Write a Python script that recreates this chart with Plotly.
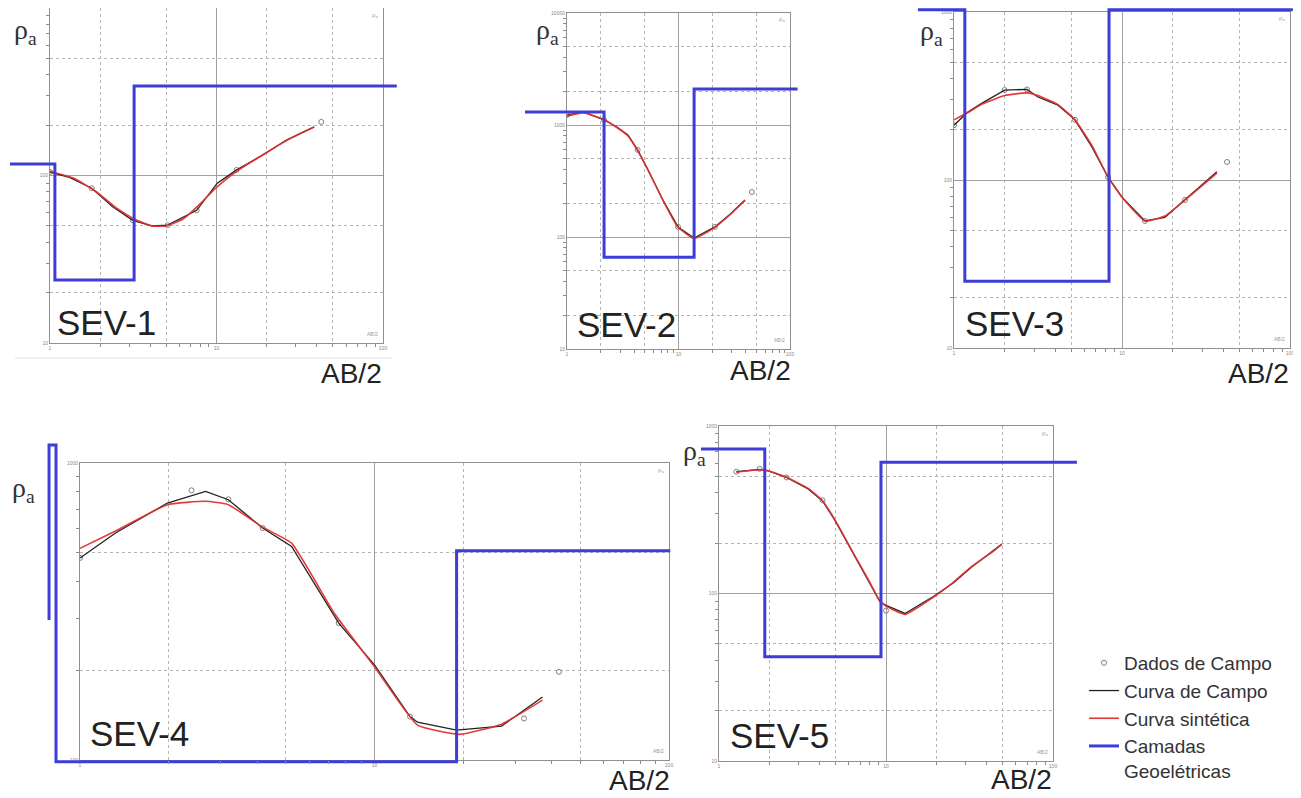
import math
import plotly.graph_objects as go

# page is shown with the browser's default 8px body margin
OFF = 8
W, H = 1301 - OFF, 798 - OFF

# ---------------- data (AB/2 in m, apparent resistivity in ohm.m) ----------------
# SEV-1
sev1_campo_x = [1.0, 1.32, 1.78, 2.38, 3.14, 4.08, 5.09, 6.3, 7.6, 10.1, 13.2, 18.9, 26.3, 38.6]
sev1_campo_r = [105, 97, 84, 65, 54, 50, 50.5, 56, 62, 90, 108, 132, 163, 195]
sev1_sint_x = [1.0, 1.4, 1.9, 2.5, 3.2, 4.1, 5.0, 6.3, 8.0, 10.0, 13.2, 19.0, 27.0, 38.6]
sev1_sint_r = [106, 96, 80, 64, 55, 50, 50, 55, 68, 85, 106, 133, 164, 195]
sev1_dados_x = [1.0, 1.78, 3.14, 5.09, 7.6, 13.2, 42.6]
sev1_dados_r = [105, 84, 54, 50.5, 62, 108, 209]
sev1_cam_x = [0.575, 1.07, 1.07, 3.2, 3.2, 121]
sev1_cam_r = [117, 117, 23.8, 23.8, 342, 342]

# SEV-2
sev2_campo_x = [1.0, 1.39, 2.15, 2.8, 3.52, 4.3, 5.32, 7.26, 9.9, 13.8, 21.2, 29.0, 39.5]
sev2_campo_r = [1227, 1306, 1109, 960, 815, 600, 396, 214, 123, 98, 123, 160, 214]
sev2_sint_x = [1.0, 1.4, 2.15, 2.8, 3.52, 4.3, 5.32, 7.26, 9.9, 13.8, 21.2, 29.0, 39.5]
sev2_sint_r = [1200, 1290, 1120, 950, 800, 590, 400, 212, 122, 97, 122, 158, 212]
sev2_dados_x = [1.0, 2.15, 4.3, 9.9, 21.2, 45.5]
sev2_dados_r = [1227, 1109, 600, 123, 123, 252]
sev2_cam_x = [0.42, 2.15, 2.15, 13.8, 13.8, 117]
sev2_cam_r = [1306, 1306, 66, 66, 2094, 2094]

# SEV-3
sev3_campo_x = [1.0, 1.21, 1.47, 1.8, 2.0, 2.72, 3.16, 4.16, 5.25, 6.63, 8.26, 10.0, 13.7, 18.0, 23.7, 36.7]
sev3_campo_r = [212, 254, 287, 325, 343, 346, 312, 279, 228, 157, 104, 79, 57, 60, 76, 112]
sev3_sint_x = [1.0, 1.21, 1.47, 2.0, 2.72, 3.16, 4.16, 5.25, 6.63, 8.26, 10.0, 13.7, 18.0, 23.7, 36.7]
sev3_sint_r = [228, 252, 283, 318, 330, 318, 281, 228, 160, 104, 79, 57, 61, 76, 110]
sev3_dados_x = [1.0, 2.0, 2.72, 5.25, 8.26, 13.7, 23.7, 42.2]
sev3_dados_r = [212, 343, 346, 228, 104, 57, 76, 128]
sev3_cam_x = [0.61, 1.16, 1.16, 8.37, 8.37, 104]
sev3_cam_r = [1030, 1030, 25, 25, 1030, 1030]

# SEV-4
sev4_campo_x = [1.0, 1.32, 1.98, 2.67, 3.19, 4.17, 5.23, 7.56, 10.0, 13.2, 14.0, 19.0, 27.0, 37.2]
sev4_campo_r = [479, 581, 733, 802, 752, 604, 524, 289, 209, 140, 134, 126, 130, 163]
sev4_sint_x = [1.0, 1.32, 1.98, 2.67, 3.19, 4.17, 5.23, 7.3, 10.0, 14.0, 19.5, 27.0, 37.2]
sev4_sint_r = [516, 590, 724, 743, 724, 608, 537, 312, 206, 131, 122, 132, 159]
sev4_dados_x = [1.0, 2.39, 3.19, 4.17, 7.56, 13.2, 32.2, 42.3]
sev4_dados_r = [479, 809, 755, 604, 289, 140, 138, 198]
sev4_cam_x = [0.785, 0.785, 0.829, 0.829, 19.0, 19.0, 101]
sev4_cam_r = [296, 1150, 1150, 98.7, 98.7, 506, 506]

# SEV-5
sev5_campo_x = [1.27, 1.75, 1.97, 2.54, 3.42, 4.17, 4.94, 6.36, 7.84, 9.22, 10.0, 13.0, 19.2, 25.4, 32.6, 43.0, 49.2]
sev5_campo_r = [533, 551, 540, 493, 421, 357, 274, 173, 120, 89, 85, 76, 96, 116, 144, 177, 197]
sev5_sint_x = [1.27, 1.75, 1.97, 2.54, 3.42, 4.17, 4.94, 6.36, 7.84, 9.22, 10.0, 13.0, 19.2, 25.4, 32.6, 43.0, 49.2]
sev5_sint_r = [530, 548, 541, 495, 424, 358, 276, 175, 121, 90, 84, 75, 95, 117, 145, 176, 196]
sev5_dados_x = [1.27, 1.75, 2.54, 4.17, 10.0]
sev5_dados_r = [533, 555, 493, 360, 79]
sev5_cam_x = [0.78, 1.88, 1.88, 9.33, 9.33, 139]
sev5_cam_r = [729, 729, 41.9, 41.9, 607, 607]

sev_nomes = ["SEV-1", "SEV-2", "SEV-3", "SEV-4", "SEV-5"]

# ---------------- layout geometry (pixels in the 1301x798 window) ----------------
boxes = [(50, 383, 8, 343), (567, 790, 13, 349), (954, 1290, 12, 348),
         (80, 669, 463, 760), (719, 1053, 426, 761)]
x_ranges = [(1, 100)] * 5
y_ranges = [(10, 1000), (10, 10000), (10, 1000), (100, 1000), (10, 1000)]

campo = [(sev1_campo_x, sev1_campo_r), (sev2_campo_x, sev2_campo_r), (sev3_campo_x, sev3_campo_r),
         (sev4_campo_x, sev4_campo_r), (sev5_campo_x, sev5_campo_r)]
sint = [(sev1_sint_x, sev1_sint_r), (sev2_sint_x, sev2_sint_r), (sev3_sint_x, sev3_sint_r),
        (sev4_sint_x, sev4_sint_r), (sev5_sint_x, sev5_sint_r)]
dados = [(sev1_dados_x, sev1_dados_r), (sev2_dados_x, sev2_dados_r), (sev3_dados_x, sev3_dados_r),
         (sev4_dados_x, sev4_dados_r), (sev5_dados_x, sev5_dados_r)]
camadas = [(sev1_cam_x, sev1_cam_r), (sev2_cam_x, sev2_cam_r), (sev3_cam_x, sev3_cam_r),
           (sev4_cam_x, sev4_cam_r), (sev5_cam_x, sev5_cam_r)]

BLUE = "#3d3dd8"
RED = "rgba(226,48,48,0.95)"
BLACK = "#222222"
GRID = "#a0a0a0"
GRID_DOT = "#b4b4b4"
FRAME = "#909090"
TXT = "#222222"


def fx(p):
    return (p - OFF) / W


def fy(p):
    return 1 - (p - OFF) / H


fig = go.Figure()
layout_axes = {}
annotations = []

for i in range(5):
    k = i + 1
    L, R, T, B = boxes[i]
    x0, x1 = x_ranges[i]
    y0, y1 = y_ranges[i]
    xd = [fx(L), fx(R)]
    yd = [fy(B), fy(T)]
    xr = [math.log10(x0), math.log10(x1)]
    yr = [math.log10(y0), math.log10(y1)]

    xdec = [10 ** e for e in range(int(round(xr[0])), int(round(xr[1])) + 1)]
    ydec = [10 ** e for e in range(int(round(yr[0])), int(round(yr[1])) + 1)]
    xmin = [m * d for d in xdec[:-1] for m in (2, 5)]
    ymin = [m * d for d in ydec[:-1] for m in (2, 5)]
    xall = [m * d for d in xdec[:-1] for m in range(2, 10)]
    yall = [m * d for d in ydec[:-1] for m in range(2, 10)]

    common = dict(type="log", showgrid=True, gridcolor=GRID, gridwidth=1, zeroline=False,
                  showline=True, linecolor=FRAME, linewidth=1, mirror=True, ticks="",
                  tickfont=dict(size=5, color="#888888", family="Liberation Sans, Arial"),
                  automargin=False, fixedrange=True)
    layout_axes[f"xaxis{k}"] = dict(common, domain=xd, range=xr, anchor=f"y{k}",
                                    tickmode="array", tickvals=xdec,
                                    ticktext=[str(int(v)) for v in xdec],
                                    minor=dict(tickmode="array", tickvals=xmin, showgrid=True,
                                               gridcolor=GRID_DOT, griddash="dot", gridwidth=1, ticks=""))
    layout_axes[f"yaxis{k}"] = dict(common, domain=yd, range=yr, anchor=f"x{k}",
                                    tickmode="array", tickvals=ydec,
                                    ticktext=[str(int(v)) for v in ydec],
                                    minor=dict(tickmode="array", tickvals=ymin, showgrid=True,
                                               gridcolor=GRID_DOT, griddash="dot", gridwidth=1, ticks=""))

    # overlay axes (same scale, larger domain) for the layer-model lines that leave the frame
    padx, pady = 55, 22
    sx = (xr[1] - xr[0]) / (xd[1] - xd[0])
    sy = (yr[1] - yr[0]) / (yd[1] - yd[0])
    exd = [max(0.0, xd[0] - padx / W), min(1.0, xd[1] + padx / W)]
    eyd = [max(0.0, yd[0] - pady / H), min(1.0, yd[1] + pady / H)]
    exr = [xr[0] - (xd[0] - exd[0]) * sx, xr[1] + (exd[1] - xd[1]) * sx]
    eyr = [yr[0] - (yd[0] - eyd[0]) * sy, yr[1] + (eyd[1] - yd[1]) * sy]
    ko = k + 5
    layout_axes[f"xaxis{ko}"] = dict(type="log", domain=exd, range=exr, anchor=f"y{ko}",
                                     visible=False, fixedrange=True)
    layout_axes[f"yaxis{ko}"] = dict(type="log", domain=eyd, range=eyr, anchor=f"x{ko}",
                                     visible=False, fixedrange=True)

    # third axis pair: same frame, only the small log tick marks
    kt = k + 10
    tick_common = dict(type="log", showgrid=False, zeroline=False, showline=False,
                       showticklabels=False, ticks="outside", ticklen=3, tickwidth=1,
                       tickcolor="#8c8c8c", tickmode="array", automargin=False, fixedrange=True)
    layout_axes[f"xaxis{kt}"] = dict(tick_common, domain=xd, range=xr, anchor=f"y{kt}", tickvals=xall)
    layout_axes[f"yaxis{kt}"] = dict(tick_common, domain=yd, range=yr, anchor=f"x{kt}", tickvals=yall)
    fig.add_trace(go.Scatter(x=[x0], y=[y0], mode="markers", marker=dict(size=1, opacity=0),
                             xaxis=f"x{kt}", yaxis=f"y{kt}", showlegend=False, hoverinfo="skip"))

    first = (i == 0)
    cx, cr = campo[i]
    sxv, srv = sint[i]
    dx, dr = dados[i]
    bx, br = camadas[i]
    fig.add_trace(go.Scatter(x=dx, y=dr, mode="markers", name="Dados de Campo",
                             marker=dict(symbol="circle-open", size=5, color="#808080",
                                         line=dict(width=1, color="#808080")),
                             xaxis=f"x{k}", yaxis=f"y{k}", showlegend=first, legendrank=1))
    fig.add_trace(go.Scatter(x=cx, y=cr, mode="lines", name="Curva de Campo",
                             line=dict(color=BLACK, width=1.3),
                             xaxis=f"x{k}", yaxis=f"y{k}", showlegend=first, legendrank=2))
    fig.add_trace(go.Scatter(x=sxv, y=srv, mode="lines", name="Curva sintética",
                             line=dict(color=RED, width=1.6, shape="spline", smoothing=0.4),
                             xaxis=f"x{k}", yaxis=f"y{k}", showlegend=first, legendrank=3))
    fig.add_trace(go.Scatter(x=bx, y=br, mode="lines", name="Camadas<br>Geoelétricas",
                             line=dict(color=BLUE, width=3),
                             xaxis=f"x{ko}", yaxis=f"y{ko}", showlegend=first, legendrank=4))

    # tiny in-frame labels
    annotations.append(dict(x=fx(R - 3), y=fy(T + 7), xref="paper", yref="paper",
                            text="ρ<sub>a</sub>", showarrow=False, xanchor="right", yanchor="middle",
                            font=dict(size=6, color="#999999", family="Liberation Sans, Arial")))
    annotations.append(dict(x=fx(R - 3), y=fy(B - 9), xref="paper", yref="paper",
                            text="AB/2", showarrow=False, xanchor="right", yanchor="middle",
                            font=dict(size=5, color="#999999", family="Liberation Sans, Arial")))

# big labels
sev_pos = [(55, 322), (575, 325), (963, 323), (88, 733), (728, 735)]
ab_pos = [(384, 373), (793, 370), (1291, 373), (672, 780), (1054, 779)]
rho_pos = [(12, 31), (534, 31), (918, 33), (10, 489), (681, 452)]
for i in range(5):
    px, py = sev_pos[i]
    annotations.append(dict(x=fx(px), y=fy(py), xref="paper", yref="paper", text=sev_nomes[i],
                            showarrow=False, xanchor="left", yanchor="middle",
                            font=dict(size=35, color=TXT, family="Liberation Sans, Arial")))
    px, py = ab_pos[i]
    annotations.append(dict(x=fx(px), y=fy(py), xref="paper", yref="paper", text="AB/2",
                            showarrow=False, xanchor="right", yanchor="middle",
                            font=dict(size=28, color=TXT, family="Liberation Sans, Arial")))
    px, py = rho_pos[i]
    annotations.append(dict(x=fx(px), y=fy(py), xref="paper", yref="paper", text="ρ<sub>a</sub>",
                            showarrow=False, xanchor="left", yanchor="middle",
                            font=dict(size=28, color="#333333", family="Liberation Serif, Times New Roman")))

fig.update_layout(
    width=W, height=H,
    margin=dict(l=0, r=0, t=0, b=0),
    paper_bgcolor="white", plot_bgcolor="rgba(0,0,0,0)",
    annotations=annotations,
    shapes=[dict(type="line", xref="paper", yref="paper", x0=fx(15), x1=fx(392), y0=fy(358), y1=fy(358),
                 line=dict(color="#dddddd", width=1))],
    legend=dict(x=fx(1084), y=fy(644), xanchor="left", yanchor="top", valign="top",
                font=dict(size=19, color="#333333", family="Liberation Sans, Arial"),
                bgcolor="rgba(0,0,0,0)", tracegroupgap=0, itemwidth=30),
    showlegend=True,
    **layout_axes,
)

fig.write_html("out.html")
